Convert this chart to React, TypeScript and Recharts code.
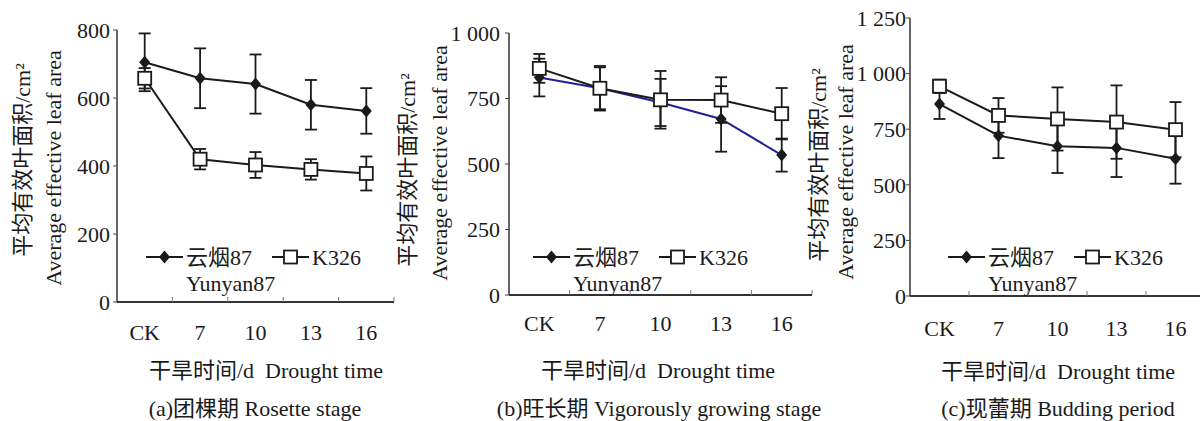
import { ErrorBar, Label, Legend, Line, LineChart, XAxis, YAxis } from 'recharts';

const days = ['CK', '7', '10', '13', '16'];

// (a) 团棵期 Rosette stage
const rosetteYunyan = [705, 658, 641, 580, 562];
const rosetteYunyanErr = [85, 88, 87, 73, 67];
const rosetteK326 = [658, 420, 403, 390, 378];
const rosetteK326Err = [30, 30, 38, 30, 50];
const rosetteTicks = [0, 200, 400, 600, 800];

// (b) 旺长期 Vigorously growing stage
const vigorYunyan = [830, 789, 735, 672, 534];
const vigorYunyanErr = [72, 85, 90, 125, 63];
const vigorK326 = [865, 789, 745, 744, 692];
const vigorK326Err = [55, 80, 110, 87, 98];
const vigorTicks = [0, 250, 500, 750, 1000];

// (c) 现蕾期 Budding period
const budYunyan = [863, 721, 673, 666, 617];
const budYunyanErr = [67, 101, 120, 131, 112];
const budK326 = [943, 812, 796, 782, 748];
const budK326Err = [30, 78, 142, 165, 124];
const budTicks = [0, 250, 500, 750, 1000, 1250];

const FONT = "'Liberation Serif', 'Noto Sans CJK SC', serif";
const INK = '#1a1a1a';
const CHART_W = 470;
const CHART_H = 421;
const textStyle = { fontFamily: FONT, fontSize: 22, fill: INK };

function buildRows(yun: number[], yunErr: number[], k: number[], kErr: number[]) {
  return days.map((day, i) => ({
    day,
    pos: i + 0.5,
    yun: yun[i],
    yunErr: yunErr[i],
    k326: k[i],
    k326Err: kErr[i],
  }));
}

function fmtY(v: number): string {
  if (v < 1000) return String(v);
  return `${Math.floor(v / 1000)}\u00a0${String(v % 1000).padStart(3, '0')}`;
}

const xTickPositions = [0.5, 1, 1.5, 2, 2.5, 3, 3.5, 4, 4.5, 5];

const panels = [
  {
    key: 'a',
    rows: buildRows(rosetteYunyan, rosetteYunyanErr, rosetteK326, rosetteK326Err),
    yTicks: rosetteTicks,
    caption: '(a)团棵期 Rosette stage',
    yunColor: INK,
    left: 0,
    axisX: 117,
    top: 30,
    bottom: 302,
    right: 394,
    yGap: 3,
    xGap: 30,
    zh: { x: 22, y: 160 },
    en: { x: 53, y: 168 },
    xTitle: { x: 266, y: 370 },
    cap: { x: 255, y: 408 },
    legend: { x: 146, y: 257 },
  },
  {
    key: 'b',
    rows: buildRows(vigorYunyan, vigorYunyanErr, vigorK326, vigorK326Err),
    yTicks: vigorTicks,
    caption: '(b)旺长期 Vigorously growing stage',
    yunColor: '#20209a',
    left: 380,
    axisX: 509,
    top: 33,
    bottom: 295,
    right: 812,
    yGap: 5,
    xGap: 28,
    zh: { x: 407, y: 170 },
    en: { x: 439, y: 163 },
    xTitle: { x: 658, y: 370 },
    cap: { x: 659, y: 408 },
    legend: { x: 533, y: 257 },
  },
  {
    key: 'c',
    rows: buildRows(budYunyan, budYunyanErr, budK326, budK326Err),
    yTicks: budTicks,
    caption: '(c)现蕾期 Budding period',
    yunColor: INK,
    left: 780,
    axisX: 910,
    top: 18,
    bottom: 296,
    right: 1205,
    yGap: 0,
    xGap: 32,
    zh: { x: 818, y: 165 },
    en: { x: 845, y: 162 },
    xTitle: { x: 1058, y: 371 },
    cap: { x: 1058, y: 408 },
    legend: { x: 948, y: 257 },
  },
];

type Panel = (typeof panels)[number];

function diamondPath(cx: number, cy: number) {
  return `M${cx},${cy - 6.5} L${cx + 5.5},${cy} L${cx},${cy + 6.5} L${cx - 5.5},${cy} Z`;
}

const renderDiamond = (props: any) => (
  <path key={`d-${props.index}`} d={diamondPath(props.cx, props.cy)} fill={INK} />
);

const renderSquare = (props: any) => (
  <rect
    key={`s-${props.index}`}
    x={props.cx - 6.5}
    y={props.cy - 6.5}
    width={13}
    height={13}
    fill="#fff"
    stroke={INK}
    strokeWidth={1.8}
  />
);

function PanelChart({ p }: { p: Panel }) {
  const yAxisW = 70;
  const xAxisH = 40;
  const margin = {
    top: p.top,
    left: p.axisX - p.left - yAxisW,
    bottom: CHART_H - p.bottom - xAxisH,
    right: p.left + CHART_W - p.right,
  };
  const L = p.left;

  const xTick = (props: any) => {
    const { x, y, payload } = props;
    const v = payload.value as number;
    if (Number.isInteger(v)) {
      const axisY = y - p.xGap;
      return <line x1={x} x2={x} y1={axisY} y2={axisY - 5} stroke="#777" strokeWidth={1} />;
    }
    return (
      <text x={x} y={y} dy="0.35em" textAnchor="middle" style={textStyle}>
        {days[v - 0.5]}
      </text>
    );
  };

  const yTick = (props: any) => {
    const { x, y, payload } = props;
    return (
      <text x={x} y={y} dy="0.35em" textAnchor="end" style={textStyle}>
        {fmtY(payload.value)}
      </text>
    );
  };

  const yTitle = () => (
    <g>
      <text
        x={p.zh.x - L}
        y={p.zh.y}
        dy="0.35em"
        textAnchor="middle"
        style={textStyle}
        transform={`rotate(-90 ${p.zh.x - L} ${p.zh.y})`}
      >
        平均有效叶面积/cm²
      </text>
      <text
        x={p.en.x - L}
        y={p.en.y}
        dy="0.35em"
        textAnchor="middle"
        style={textStyle}
        transform={`rotate(-90 ${p.en.x - L} ${p.en.y})`}
      >
        Average effective leaf area
      </text>
    </g>
  );

  const xTitle = () => (
    <g>
      <text
        x={p.xTitle.x - L}
        y={p.xTitle.y}
        dy="0.35em"
        textAnchor="middle"
        style={{ ...textStyle, whiteSpace: 'pre' }}
      >
        {'干旱时间/d  Drought time'}
      </text>
      <text x={p.cap.x - L} y={p.cap.y} dy="0.35em" textAnchor="middle" style={textStyle}>
        {p.caption}
      </text>
    </g>
  );

  const legend = (props: any) => {
    const items: any[] = props.payload || [];
    const yName = items.find((it) => it.dataKey === 'yun')?.value ?? '云烟87';
    const kName = items.find((it) => it.dataKey === 'k326')?.value ?? 'K326';
    return (
      <svg width={250} height={50} style={{ overflow: 'visible', display: 'block' }}>
        <line x1={0} x2={37} y1={12} y2={12} stroke={INK} strokeWidth={2} />
        <path d={diamondPath(18.5, 12)} fill={INK} />
        <text x={40} y={12} dy="0.35em" style={textStyle}>{yName}</text>
        <line x1={126} x2={163} y1={12} y2={12} stroke={INK} strokeWidth={2} />
        <rect x={138} y={5.5} width={13} height={13} fill="#fff" stroke={INK} strokeWidth={1.8} />
        <text x={166} y={12} dy="0.35em" style={textStyle}>{kName}</text>
        <text x={40} y={38} dy="0.35em" style={textStyle}>Yunyan87</text>
      </svg>
    );
  };

  return (
    <div style={{ position: 'absolute', left: L, top: 0 }}>
      <LineChart width={CHART_W} height={CHART_H} data={p.rows} margin={margin}>
        <XAxis
          type="number"
          dataKey="pos"
          domain={[0, 5]}
          ticks={xTickPositions}
          interval={0}
          height={xAxisH}
          tickSize={0}
          tickMargin={p.xGap}
          tickLine={false}
          tick={xTick}
          axisLine={{ stroke: '#333', strokeWidth: 1.8 }}
          allowDataOverflow
        >
          <Label content={xTitle} />
        </XAxis>
        <YAxis
          type="number"
          domain={[0, p.yTicks[p.yTicks.length - 1]]}
          ticks={p.yTicks}
          interval={0}
          width={yAxisW}
          tickSize={4}
          tickMargin={p.yGap}
          tickLine={{ stroke: '#444', strokeWidth: 1 }}
          tick={yTick}
          axisLine={{ stroke: '#333', strokeWidth: 1.5 }}
          allowDataOverflow
        >
          <Label content={yTitle} />
        </YAxis>
        <Legend
          layout="vertical"
          align="center"
          verticalAlign="middle"
          content={legend}
          wrapperStyle={{ left: p.legend.x - L, top: p.legend.y - 12, width: 250, height: 50 }}
        />
        <Line
          type="linear"
          dataKey="yun"
          name="云烟87"
          stroke={p.yunColor}
          strokeWidth={2}
          dot={renderDiamond}
          activeDot={false}
          isAnimationActive={false}
        >
          <ErrorBar dataKey="yunErr" direction="y" width={6} stroke={INK} strokeWidth={1.8} />
        </Line>
        <Line
          type="linear"
          dataKey="k326"
          name="K326"
          stroke={INK}
          strokeWidth={2}
          dot={renderSquare}
          activeDot={false}
          isAnimationActive={false}
        >
          <ErrorBar dataKey="k326Err" direction="y" width={6} stroke={INK} strokeWidth={1.8} />
        </Line>
      </LineChart>
    </div>
  );
}

export default function App() {
  return (
    <div
      style={{
        position: 'absolute',
        left: 0,
        top: 0,
        width: 1200,
        height: 421,
        overflow: 'hidden',
        background: '#fff',
      }}
    >
      {panels.map((p) => (
        <PanelChart key={p.key} p={p} />
      ))}
    </div>
  );
}
